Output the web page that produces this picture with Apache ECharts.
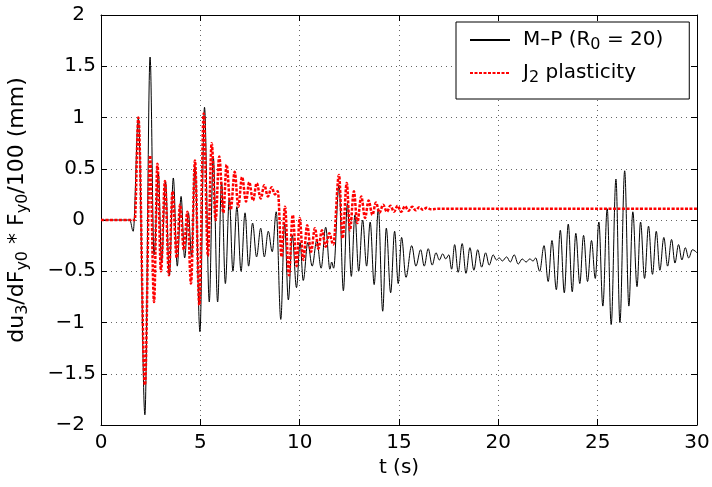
<!DOCTYPE html>
<html>
<head>
<meta charset="utf-8">
<script src="https://cdn.jsdelivr.net/npm/echarts@6/dist/echarts.min.js"></script>
<style>html,body{margin:0;padding:0;background:#fff}#c{width:712px;height:487px}</style>
</head>
<body>
<div id="c"></div>
<script>
// M-P (R0 = 20) response: time (s) of extrema and values
const mpTime = [0,1.45,1.62,1.88,2.21,2.47,2.67,2.89,3.05,3.25,3.44,3.64,3.84,4.03,4.21,4.40,4.56,4.73,4.98,5.21,
  5.45,5.65,5.87,6.07,6.26,6.46,6.64,6.84,7.05,7.25,7.43,7.63,7.83,8.04,8.22,8.42,8.62,8.82,9.05,9.24,
  9.43,9.63,9.84,10.02,10.18,10.41,10.63,10.86,11.08,11.31,11.52,11.61,11.71,11.98,12.20,12.40,12.60,12.78,12.97,13.17,
  13.37,13.55,13.75,13.96,14.18,14.36,14.58,14.78,14.96,15.13,15.35,15.64,15.85,16.09,16.27,16.47,16.67,16.86,17.03,17.20,
  17.35,17.51,17.65,17.80,17.98,18.18,18.37,18.57,18.77,18.96,19.16,19.36,19.54,19.74,19.90,20.05,20.20,20.42,20.60,20.80,
  21.00,21.20,21.40,21.58,21.75,21.88,22.08,22.30,22.51,22.70,22.92,23.12,23.32,23.52,23.72,23.90,24.10,24.29,24.49,24.69,
  24.88,25.06,25.26,25.48,25.68,25.92,26.12,26.36,26.57,26.77,26.98,27.16,27.36,27.56,27.76,27.95,28.13,28.33,28.52,28.72,
  28.89,29.07,29.24,29.41,29.58,29.77,30.00];
const mpDisp = [0,0,-0.11,0.99,-1.90,1.59,-0.34,0.45,-0.41,0.37,-0.54,0.41,-0.45,0.23,-0.37,0.07,-0.36,0.52,-1.09,1.10,
  -0.80,0.62,-0.80,0.37,-0.62,0.21,-0.50,0.13,-0.50,0.07,-0.45,-0.03,-0.36,-0.08,-0.36,-0.11,-0.31,0.08,-0.97,-0.03,
  -0.78,-0.15,-0.66,-0.22,-0.59,-0.22,-0.45,-0.20,-0.47,-0.07,-0.48,-0.41,-0.47,0.34,-0.69,0.16,-0.55,0.05,-0.50,0.00,
  -0.45,-0.02,-0.63,0.11,-0.89,-0.08,-0.71,-0.11,-0.62,-0.17,-0.56,-0.25,-0.45,-0.29,-0.45,-0.28,-0.44,-0.32,-0.39,-0.33,
  -0.38,-0.34,-0.48,-0.24,-0.51,-0.23,-0.52,-0.27,-0.49,-0.29,-0.46,-0.32,-0.44,-0.34,-0.39,-0.37,-0.40,-0.36,-0.41,-0.34,
  -0.43,-0.38,-0.41,-0.38,-0.40,-0.37,-0.50,-0.25,-0.60,-0.20,-0.68,-0.10,-0.71,-0.04,-0.70,-0.13,-0.62,-0.15,-0.60,-0.20,
  -0.57,-0.02,-0.84,0.11,-1.02,0.40,-1.00,0.48,-0.84,0.08,-0.65,-0.02,-0.57,-0.06,-0.53,-0.11,-0.49,-0.17,-0.45,-0.19,
  -0.42,-0.24,-0.39,-0.27,-0.37,-0.29,-0.32];
// J2 plasticity response
const j2Time = [0,1.70,1.88,2.21,2.47,2.67,2.84,3.02,3.22,3.42,3.60,3.81,3.98,4.17,4.35,4.53,4.73,4.95,5.17,5.38,
  5.57,5.77,5.95,6.16,6.32,6.53,6.73,6.91,7.10,7.30,7.46,7.65,7.84,8.04,8.22,8.40,8.59,8.75,8.90,9.09,
  9.26,9.46,9.65,9.85,10.00,10.18,10.38,10.57,10.77,10.94,11.12,11.31,11.49,11.69,11.98,12.16,12.37,12.53,12.73,12.90,
  13.10,13.29,13.47,13.66,13.84,14.02,14.20,14.39,14.57,14.75,14.93,15.11,15.30,15.48,15.66,15.84,16.02,16.20,16.40,16.60,
  17.00,30.00];
const j2Disp = [0,0,1.00,-1.61,0.63,-0.80,0.55,-0.50,0.38,-0.54,0.28,-0.37,0.15,-0.29,0.08,-0.62,0.58,-0.83,1.04,-0.35,
  0.75,0.00,0.62,0.07,0.54,0.10,0.47,0.13,0.42,0.18,0.37,0.19,0.36,0.21,0.34,0.23,0.32,0.25,0.28,-0.36,
  0.13,-0.54,0.05,-0.45,0.02,-0.39,-0.05,-0.31,-0.08,-0.28,-0.10,-0.26,-0.13,-0.24,0.44,-0.18,0.36,-0.10,0.28,-0.03,
  0.23,0.02,0.19,0.05,0.17,0.07,0.15,0.08,0.14,0.08,0.14,0.08,0.135,0.09,0.13,0.095,0.125,0.10,0.12,0.105,
  0.11,0.11];
const xTicks = [0,5,10,15,20,25,30];
const yTicks = [-2,-1.5,-1,-0.5,0,0.5,1,1.5,2];

const FONT = 'DejaVu Sans';
const mpName = 'M–P (R0 = 20)';
const j2Name = 'J2 plasticity';
const zip = (a, b) => a.map((t, i) => [t, b[i]]);

const chart = echarts.init(document.getElementById('c'));
const frameAxis = {
  axisLine: {show: true, onZero: false, lineStyle: {color: '#000', width: 1}},
  axisTick: {show: true, inside: true, length: 6, lineStyle: {color: '#000'}}
};
const yFmt = v => {
  const s = (v < 0 ? '−' : '') + Math.abs(v);
  return Number.isInteger(v) ? s + '{p|}' : s;
};
chart.setOption({
  animation: false,
  backgroundColor: '#fff',
  grid: {left: 101, right: 15, top: 15, bottom: 62, containLabel: false, outerBoundsMode: 'none'},
  xAxis: [{
    type: 'value', min: xTicks[0], max: xTicks[xTicks.length - 1], interval: 5,
    ...frameAxis,
    axisLabel: {color: '#000', fontSize: 20, fontFamily: FONT, margin: 8},
    splitLine: {show: true, lineStyle: {color: '#666', type: [1, 4], width: 1}},
    name: 't (s)', nameLocation: 'middle', nameGap: 33,
    nameTextStyle: {color: '#000', fontSize: 20, fontFamily: FONT}
  }, {
    type: 'value', position: 'top', min: xTicks[0], max: xTicks[xTicks.length - 1], interval: 5,
    ...frameAxis, axisLabel: {show: false}, splitLine: {show: false}
  }],
  yAxis: [{
    type: 'value', min: yTicks[0], max: yTicks[yTicks.length - 1], interval: 0.5,
    ...frameAxis,
    axisLabel: {color: '#000', fontSize: 20, fontFamily: FONT, margin: 5, formatter: yFmt,
      rich: {p: {width: 11}}},
    splitLine: {show: true, lineStyle: {color: '#666', type: [1, 4], width: 1}},
    name: 'du{s|3}/dF{s|y0} * F{s|y0}/100 (mm)', nameLocation: 'middle', nameGap: 70, nameRotate: 90,
    nameTextStyle: {color: '#000', fontSize: 22, fontFamily: FONT, lineHeight: 28, padding: [0, 0, 0, 20],
      rich: {s: {fontSize: 16, fontFamily: FONT, lineHeight: 4, verticalAlign: 'bottom'}}}
  }, {
    type: 'value', position: 'right', min: yTicks[0], max: yTicks[yTicks.length - 1], interval: 0.5,
    ...frameAxis, axisLabel: {show: false}, splitLine: {show: false}
  }],
  legend: {
    left: 456, top: 22, orient: 'vertical',
    padding: [5, 26, 13, 13], itemGap: 7, itemWidth: 40, itemHeight: 14,
    backgroundColor: '#fff', borderColor: '#000', borderWidth: 1, borderRadius: 0,
    itemStyle: {opacity: 0},
    textStyle: {color: '#000', fontSize: 20, fontFamily: FONT, lineHeight: 26, padding: [0, 0, 0, 8],
      rich: {s: {fontSize: 16, fontFamily: FONT, lineHeight: 2, verticalAlign: 'bottom'}}},
    formatter: n => n === mpName ? 'M–P (R{s|0} = 20)' : 'J{s|2} plasticity',
    data: [mpName, j2Name]
  },
  series: [{
    name: mpName, type: 'line', data: zip(mpTime, mpDisp),
    symbol: 'none', showSymbol: false, smooth: 0.36, smoothMonotone: 'x',
    lineStyle: {color: '#000', width: 1}, itemStyle: {color: '#000'}
  }, {
    name: j2Name, type: 'line', data: zip(j2Time, j2Disp),
    symbol: 'none', showSymbol: false, smooth: 0.36, smoothMonotone: 'x',
    lineStyle: {color: '#ff0000', width: 2.5, type: [3, 1.5]}, itemStyle: {color: '#ff0000'}
  }]
});
</script>
</body>
</html>
